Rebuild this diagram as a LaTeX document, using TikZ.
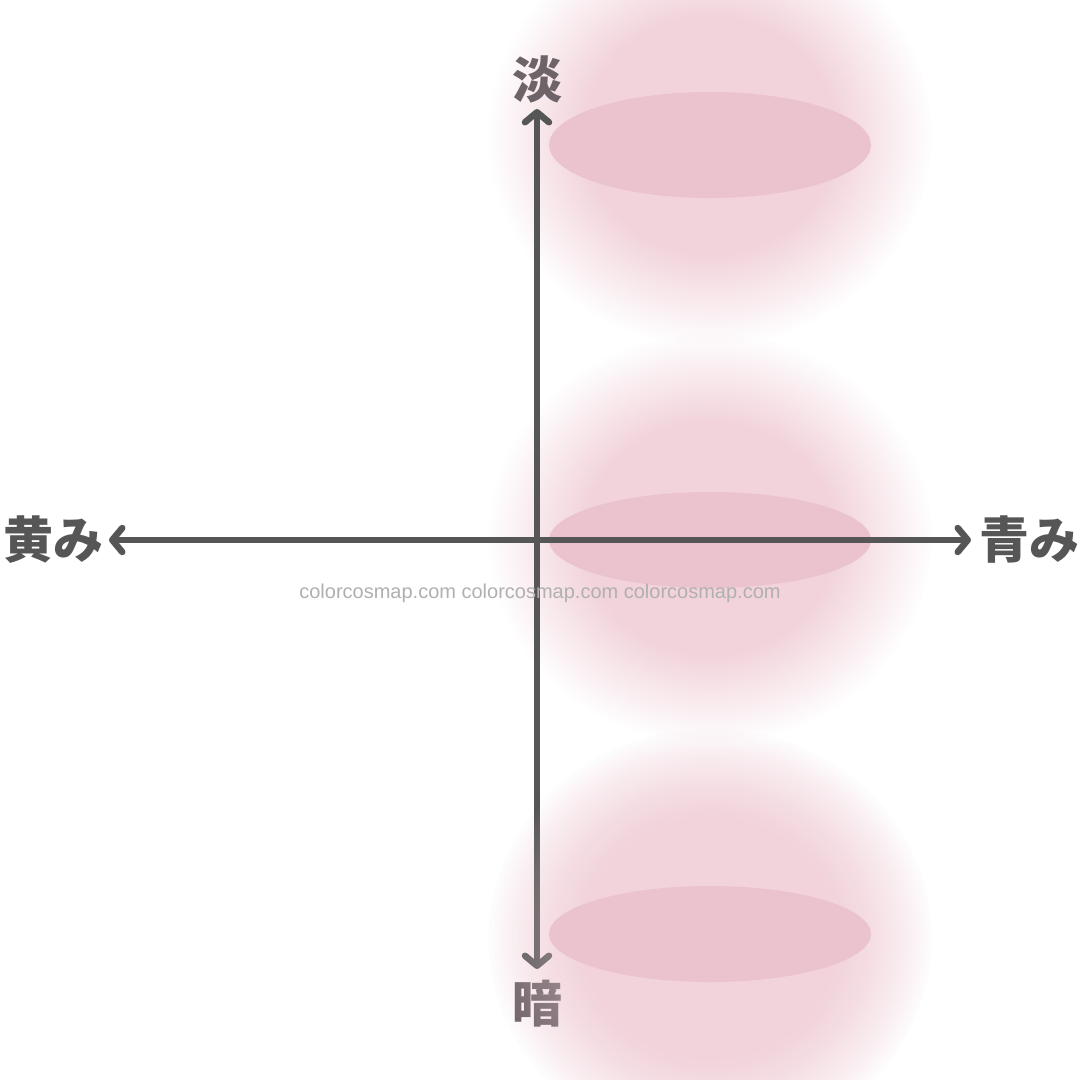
\documentclass[tikz,border=0pt]{standalone}
\usepackage{fontspec}
\setmainfont{Liberation Sans}
\newfontfamily\cjk{Noto Sans CJK JP}
\usetikzlibrary{arrows.meta,fadings}
\definecolor{glowpink}{HTML}{F2D3DB}
\definecolor{corepink}{HTML}{EBC3CE}
\definecolor{axisgray}{HTML}{565656}
\definecolor{mauve}{HTML}{6E6368}
\definecolor{wmgray}{HTML}{B0B0B0}
\pgfdeclareradialshading{glowshade}{\pgfpoint{0bp}{0bp}}{color(0bp)=(white); color(14bp)=(white); color(25bp)=(black); color(50bp)=(black)}
\pgfdeclarefading{glowfade}{\pgfuseshading{glowshade}}
\tikzset{
  glow/.style={fill=glowpink, path fading=glowfade},
  core/.style={fill=corepink},
  axis/.style={draw=axisgray, line width=6.5pt, {Straight Barb[length=10pt,width=24pt,round]}-{Straight Barb[length=10pt,width=24pt,round]}},
  lbl/.style={font=\cjk\bfseries\fontsize{50}{54}\selectfont, inner sep=0pt},
  wm/.style={font=\fontsize{20}{24}\selectfont, text=wmgray, inner sep=0pt}
}
\begin{document}
\begin{tikzpicture}[x=1pt,y=-1pt]
\useasboundingbox (0,0) rectangle (1080,1080);
\fill[white] (0,0) rectangle (1080,1080);
% glows
\fill[glow] (710,135) ellipse [x radius=222, y radius=210];
\fill[glow] (710,538) ellipse [x radius=222, y radius=205];
\fill[glow] (710,938) ellipse [x radius=222, y radius=210];
% axis endpoints
\coordinate (vt) at (537,109);
\coordinate (vb) at (537,969);
\coordinate (hl) at (109,540);
\coordinate (hr) at (971,540);
% vertical axis
\draw[axis] (vb) -- (vt);
\node[lbl, text=mauve] (dark) at (537,1004) {暗};
% tint of the lower glow over the axis
\fill[glow, opacity=0.45] (710,938) ellipse [x radius=222, y radius=210];
% core ellipses
\fill[core] (710,145) ellipse [x radius=161, y radius=53];
\fill[core] (710,540) ellipse [x radius=161, y radius=48];
\fill[core] (710,934) ellipse [x radius=161, y radius=48];
% horizontal axis
\draw[axis] (hl) -- (hr);
% labels
\node[lbl, text=mauve] (light) at (537,79) {淡};
\node[lbl, text=axisgray] (yellow) at (54,540) {黄み};
\node[lbl, text=axisgray] (blue) at (1029,540) {青み};
\node[wm] (mark) at (540,593) {colorcosmap.com colorcosmap.com colorcosmap.com};
\end{tikzpicture}
\end{document}
